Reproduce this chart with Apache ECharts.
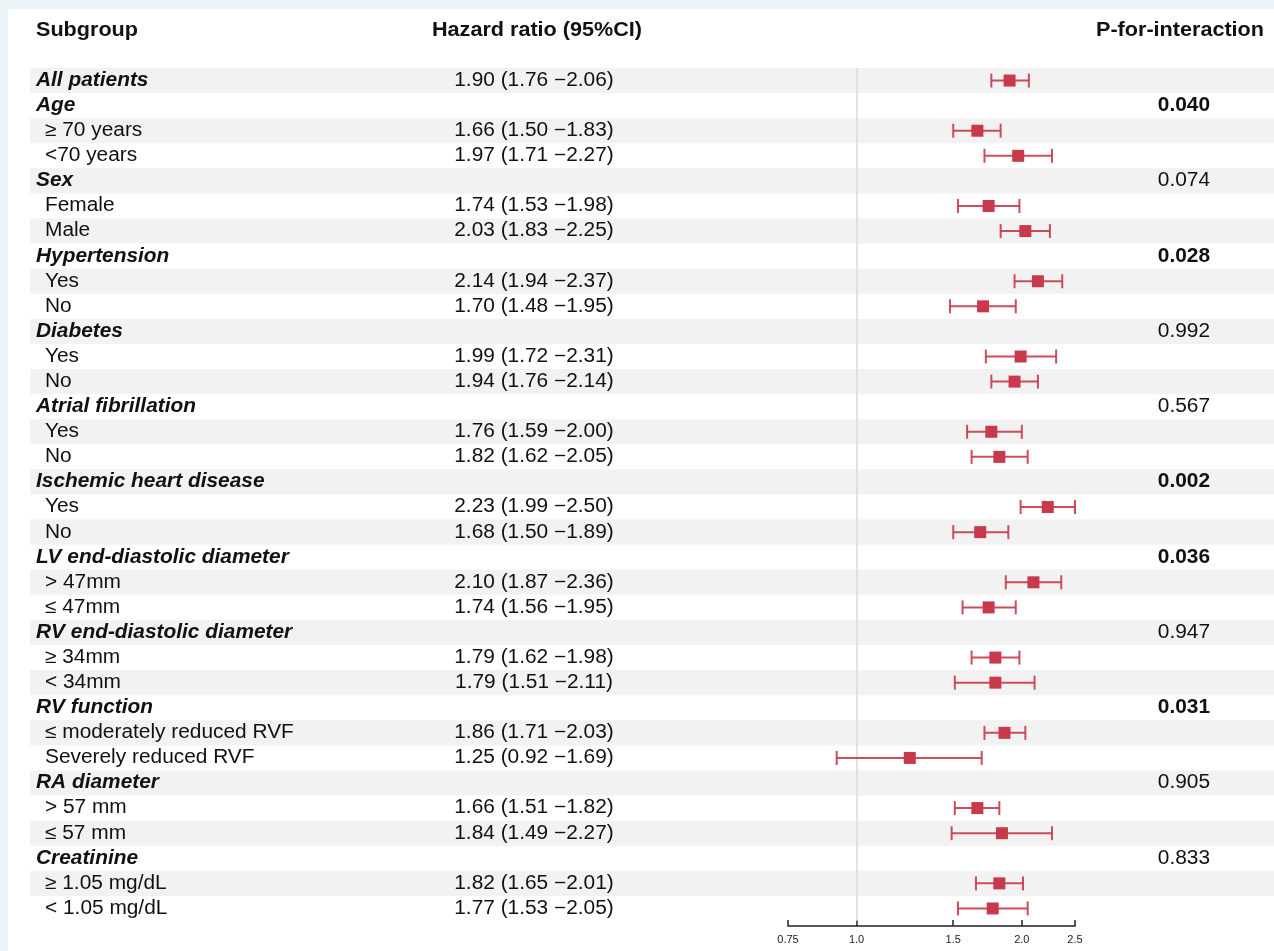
<!DOCTYPE html>
<html><head><meta charset="utf-8">
<script src="https://cdn.jsdelivr.net/npm/echarts@6/dist/echarts.min.js"></script>
<style>html,body{margin:0;padding:0;background:#EAF4F8;} #chart{width:1274px;height:951px;}</style>
</head><body><div id="chart"></div>
<script>
// ---- data ----
const rowLabels = ['All patients','Age','\u2265 70 years','<70 years','Sex','Female','Male',
  'Hypertension','Yes','No','Diabetes','Yes','No','Atrial fibrillation','Yes','No',
  'Ischemic heart disease','Yes','No','LV end-diastolic diameter','> 47mm','\u2264 47mm',
  'RV end-diastolic diameter','\u2265 34mm','< 34mm','RV function','\u2264 moderately reduced RVF','Severely reduced RVF',
  'RA diameter','> 57 mm','\u2264 57 mm','Creatinine','\u2265 1.05 mg/dL','< 1.05 mg/dL'];
const isGroup = [1,1,0,0,1,0,0,1,0,0,1,0,0,1,0,0,1,0,0,1,0,0,1,0,0,1,0,0,1,0,0,1,0,0];
const hrVals = [1.90,null,1.66,1.97,null,1.74,2.03,null,2.14,1.70,null,1.99,1.94,null,1.76,1.82,
  null,2.23,1.68,null,2.10,1.74,null,1.79,1.79,null,1.86,1.25,null,1.66,1.84,null,1.82,1.77];
const loVals = [1.76,null,1.50,1.71,null,1.53,1.83,null,1.94,1.48,null,1.72,1.76,null,1.59,1.62,
  null,1.99,1.50,null,1.87,1.56,null,1.62,1.51,null,1.71,0.92,null,1.51,1.49,null,1.65,1.53];
const hiVals = [2.06,null,1.83,2.27,null,1.98,2.25,null,2.37,1.95,null,2.31,2.14,null,2.00,2.05,
  null,2.50,1.89,null,2.36,1.95,null,1.98,2.11,null,2.03,1.69,null,1.82,2.27,null,2.01,2.05];
const pVals = ['','0.040','','','0.074','','','0.028','','','0.992','','','0.567','','',
  '0.002','','','0.036','','','0.947','','','0.031','','','0.905','','','0.833','',''];
const tickVals = [0.75, 1.0, 1.5, 2.0, 2.5];
const tickLabels = ['0.75','1.0','1.5','2.0','2.5'];
const headers = ['Subgroup','Hazard ratio (95%CI)','P-for-interaction'];

// ---- build ----
const FONT = '"Liberation Sans", Arial, Helvetica, sans-serif';
const RED = '#C83A4B';
const SX = 1.07;
const cats = rowLabels.map((_, i) => String(i));
const forestData = [];
hrVals.forEach((v, i) => { if (v != null) forestData.push([i, v, loVals[i], hiVals[i]]); });
const stripeData = [];
rowLabels.forEach((_, i) => { if (i % 2 === 0) stripeData.push([i, 1]); });
const textData = rowLabels.map((_, i) => [i, 1]);

function rowY(api, i) { return api.coord([1, i])[1]; }
function rowH(api) { return Math.abs(api.coord([1, 1])[1] - api.coord([1, 0])[1]); }

const chart = echarts.init(document.getElementById('chart'));
chart.setOption({
  backgroundColor: '#EAF4F8',
  animation: false,
  graphic: { elements: [
    { type: 'rect', silent: true, shape: { x: 8, y: 9, width: 1266, height: 942 }, style: { fill: '#FFFFFF' } },
    { type: 'text', x: 36, y: 30, scaleX: 1.08, style: { text: headers[0], font: 'bold 20px ' + FONT, fill: '#111', align: 'left', verticalAlign: 'middle' } },
    { type: 'text', x: 537, y: 30, scaleX: 1.08, style: { text: headers[1], font: 'bold 20px ' + FONT, fill: '#111', align: 'center', verticalAlign: 'middle' } },
    { type: 'text', x: 1264, y: 30, scaleX: 1.08, style: { text: headers[2], font: 'bold 20px ' + FONT, fill: '#111', align: 'right', verticalAlign: 'middle' } }
  ]},
  grid: { left: 788, width: 287, top: 68, height: 853 },
  xAxis: {
    type: 'log', logBase: 10, min: 0.75, max: 2.5, offset: 5,
    splitLine: { show: false },
    axisLine: { show: true, lineStyle: { color: '#222', width: 1.5 } },
    axisTick: { show: true, inside: true, length: 6, customValues: tickVals, lineStyle: { color: '#222', width: 1.5 } },
    axisLabel: { customValues: tickVals, fontSize: 11, color: '#222', fontFamily: FONT, margin: 8,
      formatter: v => { const k = tickVals.findIndex(t => Math.abs(t - v) < 1e-6); return k >= 0 ? tickLabels[k] : ''; } }
  },
  yAxis: { type: 'category', data: cats, inverse: true, show: false },
  series: [
    { type: 'custom', z: 1, clip: false, silent: true, data: stripeData, encode: { x: 1, y: 0 },
      renderItem: (params, api) => {
        const i = api.value(0); const y = rowY(api, i); const h = rowH(api);
        return { type: 'rect', shape: { x: 30, y: y - h / 2, width: 1274 - 30, height: h }, style: { fill: '#F2F2F2' } };
      } },
    { type: 'custom', z: 3, clip: false, silent: true, data: textData, encode: { x: 1, y: 0 },
      renderItem: (params, api) => {
        const i = api.value(0); const y = rowY(api, i);
        const children = [];
        const g = isGroup[i] === 1;
        children.push({ type: 'text', x: g ? 36 : 45, y: y, scaleX: SX, style: { text: rowLabels[i],
          font: (g ? 'italic bold ' : '') + '19.5px ' + FONT, fill: '#111', align: 'left', verticalAlign: 'middle' } });
        if (hrVals[i] != null) {
          children.push({ type: 'text', x: 534, y: y, scaleX: SX, style: {
            text: hrVals[i].toFixed(2) + ' (' + loVals[i].toFixed(2) + ' \u2212' + hiVals[i].toFixed(2) + ')',
            font: '19.5px ' + FONT, fill: '#111', align: 'center', verticalAlign: 'middle' } });
        }
        if (pVals[i] !== '') {
          const bold = parseFloat(pVals[i]) < 0.05;
          children.push({ type: 'text', x: 1210, y: y, scaleX: SX, style: { text: pVals[i],
            font: (bold ? 'bold ' : '') + '19.5px ' + FONT, fill: '#111', align: 'right', verticalAlign: 'middle' } });
        }
        return { type: 'group', children };
      } },
    { type: 'custom', z: 5, clip: false, silent: true, data: forestData, encode: { x: 1, y: 0 },
      markLine: { silent: true, symbol: 'none', label: { show: false },
        lineStyle: { color: '#DADADA', width: 1.5, type: 'solid' }, data: [{ xAxis: 1 }] },
      renderItem: (params, api) => {
        const i = api.value(0);
        const c = api.coord([api.value(1), i]);
        const lo = api.coord([api.value(2), i]);
        const hi = api.coord([api.value(3), i]);
        const y = c[1], cap = 7, sq = 12;
        const ls = { stroke: RED, lineWidth: 2, opacity: 0.9 };
        return { type: 'group', children: [
          { type: 'line', shape: { x1: lo[0], y1: y, x2: hi[0], y2: y }, style: ls },
          { type: 'line', shape: { x1: lo[0], y1: y - cap, x2: lo[0], y2: y + cap }, style: ls },
          { type: 'line', shape: { x1: hi[0], y1: y - cap, x2: hi[0], y2: y + cap }, style: ls },
          { type: 'rect', shape: { x: c[0] - sq / 2, y: y - sq / 2, width: sq, height: sq }, style: { fill: RED } }
        ] };
      } }
  ]
});
</script></body></html>
